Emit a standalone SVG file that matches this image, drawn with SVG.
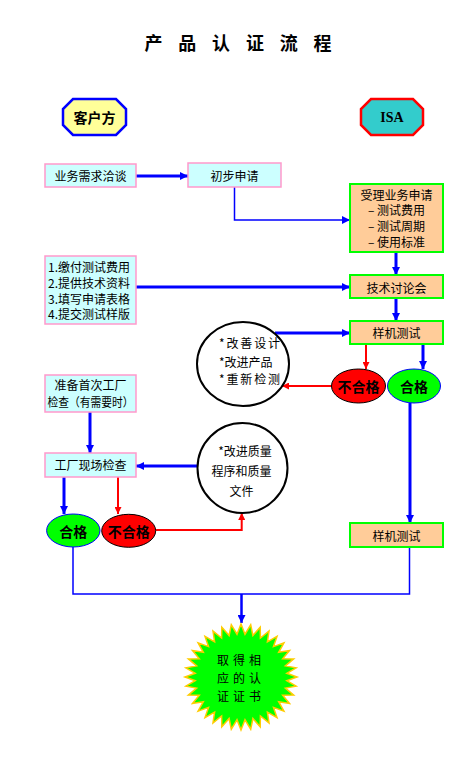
<svg xmlns="http://www.w3.org/2000/svg" width="476" height="768" viewBox="0 0 476 768">
<defs>
<style>
.t{font-family:"Noto Sans CJK SC","Noto Sans",sans-serif;font-size:12px;fill:#000;text-anchor:middle;dominant-baseline:central}
.l{text-anchor:start}
.b{font-weight:bold;font-size:14px}
.st{font-size:12px;letter-spacing:4px}
.bc{fill:#CCFFFF;stroke:#FF99CC;stroke-width:1.5}
.bi{fill:#FFCC99;stroke:#00FF00;stroke-width:2}
.blue{stroke:#0000FF;stroke-width:3;fill:none}
.thin{stroke:#0000FF;stroke-width:1.5;fill:none}
.red{stroke:#FF0000;stroke-width:2;fill:none}
.cir{fill:#FFFFFF;stroke:#000;stroke-width:2}
.ok{fill:#00FF00;stroke:#0000FF;stroke-width:1}
.ng{fill:#FF0000;stroke:#000;stroke-width:1}
</style>
<marker id="ab" viewBox="0 0 8 8" refX="8" refY="4" markerWidth="8" markerHeight="8" markerUnits="userSpaceOnUse" orient="auto"><path d="M0,0 L8,4 L0,8 z" fill="#0000FF"/></marker>
<marker id="ar" viewBox="0 0 7 7" refX="7" refY="3.5" markerWidth="7" markerHeight="7" markerUnits="userSpaceOnUse" orient="auto"><path d="M0,0 L7,3.5 L0,7 z" fill="#FF0000"/></marker>
</defs>
<rect width="476" height="768" fill="#FFFFFF"/>
<text class="t" x="238" y="42" style="font-size:18px;font-weight:bold" textLength="187" lengthAdjust="spacing">产 品 认 证 流 程</text>

<g id="connectors">
<line class="blue" x1="136" y1="176" x2="188" y2="176" marker-end="url(#ab)"/>
<polyline class="thin" points="234.5,187 234.5,220 350,220" marker-end="url(#ab)"/>
<line class="blue" x1="396" y1="252" x2="396" y2="275" marker-end="url(#ab)"/>
<line class="blue" x1="136" y1="287" x2="350" y2="287" marker-end="url(#ab)"/>
<line class="blue" x1="396" y1="298" x2="396" y2="321" marker-end="url(#ab)"/>
<line class="blue" x1="275" y1="333" x2="350" y2="333" marker-end="url(#ab)"/>
<line class="red" x1="366" y1="344" x2="366" y2="369" marker-end="url(#ar)"/>
<line class="blue" x1="423" y1="344" x2="423" y2="369" marker-end="url(#ab)"/>
<line class="red" x1="332" y1="386" x2="282" y2="386" marker-end="url(#ar)"/>
<line class="blue" x1="410" y1="403" x2="410" y2="523" marker-end="url(#ab)"/>
<line class="blue" x1="90" y1="412" x2="90" y2="453" marker-end="url(#ab)"/>
<line class="blue" x1="198" y1="466" x2="136" y2="466" marker-end="url(#ab)"/>
<line class="blue" x1="64" y1="477" x2="64" y2="514" marker-end="url(#ab)"/>
<line class="red" x1="118" y1="477" x2="118" y2="514" marker-end="url(#ar)"/>
<polyline class="red" points="156,530 241.7,530 241.7,513" marker-end="url(#ar)"/>
<polyline class="thin" points="73,547 73,594 409.5,594 409.5,547"/>
<line class="blue" style="stroke-width:2.5" x1="241.5" y1="594" x2="241.5" y2="623" marker-end="url(#ab)"/>
</g>

<g id="client">
<polygon points="73,99 116,99 126,109 126,125 116,135 73,135 63,125 63,109" fill="#FFFF99" stroke="#0000FF" stroke-width="2.5"/>
<text class="t b" x="94.5" y="117">客户方</text>
</g>
<g id="isa">
<polygon points="371,99 413,99 423,109 423,125 413,135 371,135 361,125 361,109" fill="#33CCCC" stroke="#FF0000" stroke-width="2.5"/>
<text class="t b" x="392" y="117" style="font-family:'Liberation Serif',serif">ISA</text>
</g>

<g id="n-demand">
<rect class="bc" x="45" y="164" width="91" height="23"/>
<text class="t" x="90.5" y="175.5">业务需求洽谈</text>
</g>
<g id="n-apply">
<rect class="bc" x="188" y="163" width="93" height="24"/>
<text class="t" x="234.5" y="175.5">初步申请</text>
</g>
<g id="n-accept">
<rect class="bi" x="350" y="184" width="93" height="68"/>
<text class="t" x="396.5" y="194">受理业务申请</text>
<text class="t" x="396.5" y="209.5">– 测试费用</text>
<text class="t" x="396.5" y="225.5">– 测试周期</text>
<text class="t" x="396.5" y="241.5">– 使用标准</text>
</g>
<g id="n-list">
<rect class="bc" x="45" y="256" width="91" height="68"/>
<text class="t l" x="48" y="266">1.缴付测试费用</text>
<text class="t l" x="48" y="282">2.提供技术资料</text>
<text class="t l" x="48" y="298">3.填写申请表格</text>
<text class="t l" x="48" y="313.5">4.提交测试样版</text>
</g>
<g id="n-tech">
<rect class="bi" x="350" y="275" width="93" height="23"/>
<text class="t" x="396.5" y="287">技术讨论会</text>
</g>
<g id="n-sample1">
<rect class="bi" x="350" y="321" width="93" height="23"/>
<text class="t" x="396.5" y="332.5">样机测试</text>
</g>
<g id="n-improve1">
<ellipse class="cir" cx="243" cy="364" rx="46" ry="42"/>
<text class="t l" x="219" y="342" textLength="61" lengthAdjust="spacing">*改善设计</text>
<text class="t l" x="219" y="361">*改进产品</text>
<text class="t l" x="219" y="378" textLength="61" lengthAdjust="spacing">*重新检测</text>
</g>
<g id="n-fail1">
<ellipse class="ng" cx="358.5" cy="386" rx="27" ry="17"/>
<text class="t b" x="358.5" y="386">不合格</text>
</g>
<g id="n-pass1">
<ellipse class="ok" cx="414" cy="386" rx="26.5" ry="17"/>
<text class="t b" x="414" y="386">合格</text>
</g>
<g id="n-prepare">
<rect class="bc" x="45" y="375" width="91" height="37"/>
<text class="t" x="90.5" y="384.5">准备首次工厂</text>
<text class="t" x="90.5" y="401" textLength="86" lengthAdjust="spacingAndGlyphs">检查（有需要时）</text>
</g>
<g id="n-factory">
<rect class="bc" x="45" y="453" width="91" height="24"/>
<text class="t" x="90.5" y="464.5">工厂现场检查</text>
</g>
<g id="n-improve2">
<circle class="cir" cx="242.5" cy="468" r="45"/>
<text class="t" x="245" y="450">*改进质量</text>
<text class="t" x="241.5" y="470">程序和质量</text>
<text class="t" x="241.5" y="490">文件</text>
</g>
<g id="n-pass2">
<ellipse class="ok" cx="73.3" cy="530.5" rx="26.7" ry="16.5"/>
<text class="t b" x="73.3" y="530.5">合格</text>
</g>
<g id="n-fail2">
<ellipse class="ng" cx="128.7" cy="530.8" rx="27" ry="16.5"/>
<text class="t b" x="128.7" y="530.8">不合格</text>
</g>
<g id="n-sample2">
<rect class="bi" x="350" y="523" width="93" height="24"/>
<text class="t" x="396.5" y="535">样机测试</text>
</g>
<g id="n-cert">
<polygon fill="#00FF00" stroke="#FFCC00" stroke-width="1.5" points="241,624 245,634.2 250.7,624.8 252.9,635.5 260.2,627.2 260.4,638 269,631.1 267.4,641.8 277,636.4 273.5,646.6 283.9,642.9 278.7,652.3 289.5,650.5 282.7,658.8 293.6,658.9 285.4,665.9 296.1,667.8 286.8,673.3 297,677 286.8,680.7 296.1,686.2 285.4,688.1 293.6,695.1 282.7,695.2 289.5,703.5 278.7,701.7 283.9,711.1 273.5,707.4 277,717.6 267.4,712.2 269,722.9 260.4,716 260.2,726.8 252.9,718.5 250.7,729.2 245,719.8 241,730 237,719.8 231.3,729.2 229.1,718.5 221.8,726.8 221.6,716 213,722.9 214.6,712.2 205,717.6 208.5,707.4 198.1,711.1 203.3,701.7 192.5,703.5 199.3,695.2 188.4,695.1 196.6,688.1 185.9,686.2 195.2,680.7 185,677 195.2,673.3 185.9,667.8 196.6,665.9 188.4,658.9 199.3,658.8 192.5,650.5 203.3,652.3 198.1,642.9 208.5,646.6 205,636.4 214.6,641.8 213,631.1 221.6,638 221.8,627.2 229.1,635.5 231.3,624.8 237,634.2"/>
<text class="t st" x="241" y="659">取得相</text>
<text class="t st" x="241" y="677">应的认</text>
<text class="t st" x="241" y="695">证证书</text>
</g>
</svg>
